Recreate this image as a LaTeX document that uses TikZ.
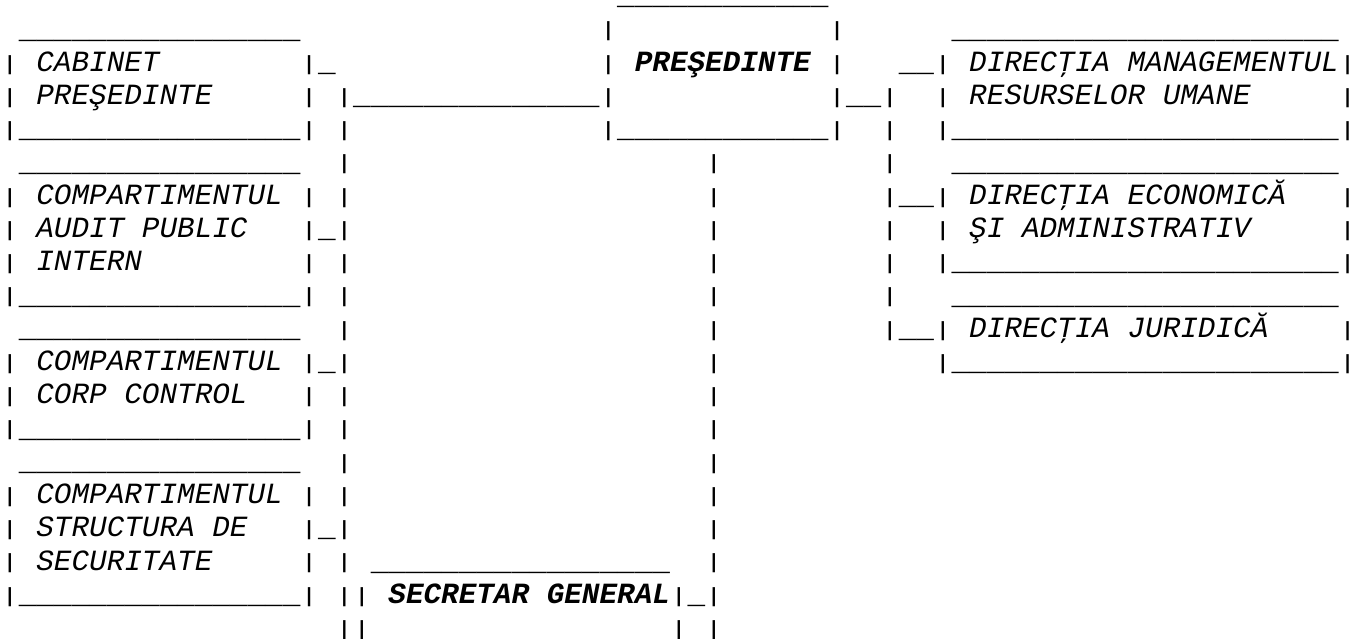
\documentclass[tikz,border=0pt]{standalone}
\usepackage{fontspec}
\usepackage{graphicx}
\newfontfamily\cmono{Liberation Mono}
\newcommand\usc{\textunderscore}
\ExplSyntaxOn
\cs_new:Npn \urun #1 {\prg_replicate:nn{#1}{\usc}}
\ExplSyntaxOff
\newcommand\vbar{\raisebox{1.2pt}{\scalebox{1}[0.7]{|}}}
\tikzset{
  cellnode/.style={anchor=base west, inner sep=0pt, outer sep=0pt,
    font=\cmono\fontsize{29.33}{33.25}\selectfont},
  lbl/.style={cellnode, font=\cmono\itshape\fontsize{29.33}{33.25}\selectfont},
  blbl/.style={cellnode, font=\cmono\bfseries\itshape\fontsize{29.33}{33.25}\selectfont}
}
% col, row
\newcommand\vb[2]{\node[cellnode] (v#1-#2) at ({1.2+17.6*#1},{-71.4-33.25*(#2-2)}) {\vbar};}
% col, count, row
\newcommand\ur[3]{\node[cellnode] (u#1-#3) at ({1.2+17.6*#1},{-71.4-33.25*(#3-2)}) {\urun{#2}};}
% style, name, col, row, text
\newcommand\tx[5]{\node[#1] (#2) at ({1.2+17.6*#3},{-71.4-33.25*(#4-2)}) {#5};}
\begin{document}
\begin{tikzpicture}[x=1pt,y=1pt]
\useasboundingbox (0,0) rectangle (1349,-639);
% row 0
\ur{35}{12}{0}
% row 1
\ur{1}{16}{1} \vb{34}{1} \vb{47}{1} \ur{54}{22}{1}
% row 2
\vb{0}{2} \tx{lbl}{cab1}{2}{2}{CABINET} \vb{17}{2} \ur{18}{1}{2}
\vb{34}{2} \tx{blbl}{pres}{36}{2}{PREŞEDINTE} \vb{47}{2}
\ur{51}{2}{2} \vb{53}{2} \tx{lbl}{dm1}{55}{2}{DIRECŢIA MANAGEMENTUL} \vb{76}{2}
% row 3
\vb{0}{3} \tx{lbl}{cab2}{2}{3}{PREŞEDINTE} \vb{17}{3} \vb{19}{3} \ur{20}{14}{3}
\vb{34}{3} \vb{47}{3} \ur{48}{2}{3} \vb{50}{3} \vb{53}{3}
\tx{lbl}{dm2}{55}{3}{RESURSELOR UMANE} \vb{76}{3}
% row 4
\vb{0}{4} \ur{1}{16}{4} \vb{17}{4} \vb{19}{4} \vb{34}{4} \ur{35}{12}{4} \vb{47}{4}
\vb{50}{4} \vb{53}{4} \ur{54}{22}{4} \vb{76}{4}
% row 5
\ur{1}{16}{5} \vb{19}{5} \vb{40}{5} \vb{50}{5} \ur{54}{22}{5}
% row 6
\vb{0}{6} \tx{lbl}{aud1}{2}{6}{COMPARTIMENTUL} \vb{17}{6} \vb{19}{6} \vb{40}{6}
\vb{50}{6} \ur{51}{2}{6} \vb{53}{6} \tx{lbl}{ec1}{55}{6}{DIRECŢIA ECONOMICĂ} \vb{76}{6}
% row 7
\vb{0}{7} \tx{lbl}{aud2}{2}{7}{AUDIT PUBLIC} \vb{17}{7} \ur{18}{1}{7} \vb{19}{7} \vb{40}{7}
\vb{50}{7} \vb{53}{7} \tx{lbl}{ec2}{55}{7}{ŞI ADMINISTRATIV} \vb{76}{7}
% row 8
\vb{0}{8} \tx{lbl}{aud3}{2}{8}{INTERN} \vb{17}{8} \vb{19}{8} \vb{40}{8}
\vb{50}{8} \vb{53}{8} \ur{54}{22}{8} \vb{76}{8}
% row 9
\vb{0}{9} \ur{1}{16}{9} \vb{17}{9} \vb{19}{9} \vb{40}{9} \vb{50}{9} \ur{54}{22}{9}
% row 10
\ur{1}{16}{10} \vb{19}{10} \vb{40}{10} \vb{50}{10} \ur{51}{2}{10} \vb{53}{10}
\tx{lbl}{jur}{55}{10}{DIRECŢIA JURIDICĂ} \vb{76}{10}
% row 11
\vb{0}{11} \tx{lbl}{cc1}{2}{11}{COMPARTIMENTUL} \vb{17}{11} \ur{18}{1}{11} \vb{19}{11} \vb{40}{11}
\vb{53}{11} \ur{54}{22}{11} \vb{76}{11}
% row 12
\vb{0}{12} \tx{lbl}{cc2}{2}{12}{CORP CONTROL} \vb{17}{12} \vb{19}{12} \vb{40}{12}
% row 13
\vb{0}{13} \ur{1}{16}{13} \vb{17}{13} \vb{19}{13} \vb{40}{13}
% row 14
\ur{1}{16}{14} \vb{19}{14} \vb{40}{14}
% row 15
\vb{0}{15} \tx{lbl}{ss1}{2}{15}{COMPARTIMENTUL} \vb{17}{15} \vb{19}{15} \vb{40}{15}
% row 16
\vb{0}{16} \tx{lbl}{ss2}{2}{16}{STRUCTURA DE} \vb{17}{16} \ur{18}{1}{16} \vb{19}{16} \vb{40}{16}
% row 17
\vb{0}{17} \tx{lbl}{ss3}{2}{17}{SECURITATE} \vb{17}{17} \vb{19}{17} \ur{21}{17}{17} \vb{40}{17}
% row 18
\vb{0}{18} \ur{1}{16}{18} \vb{17}{18} \vb{19}{18} \vb{20}{18}
\tx{blbl}{sec}{22}{18}{SECRETAR GENERAL} \vb{38}{18} \ur{39}{1}{18} \vb{40}{18}
% row 19
\vb{19}{19} \vb{20}{19} \vb{38}{19} \vb{40}{19}
\end{tikzpicture}
\end{document}
